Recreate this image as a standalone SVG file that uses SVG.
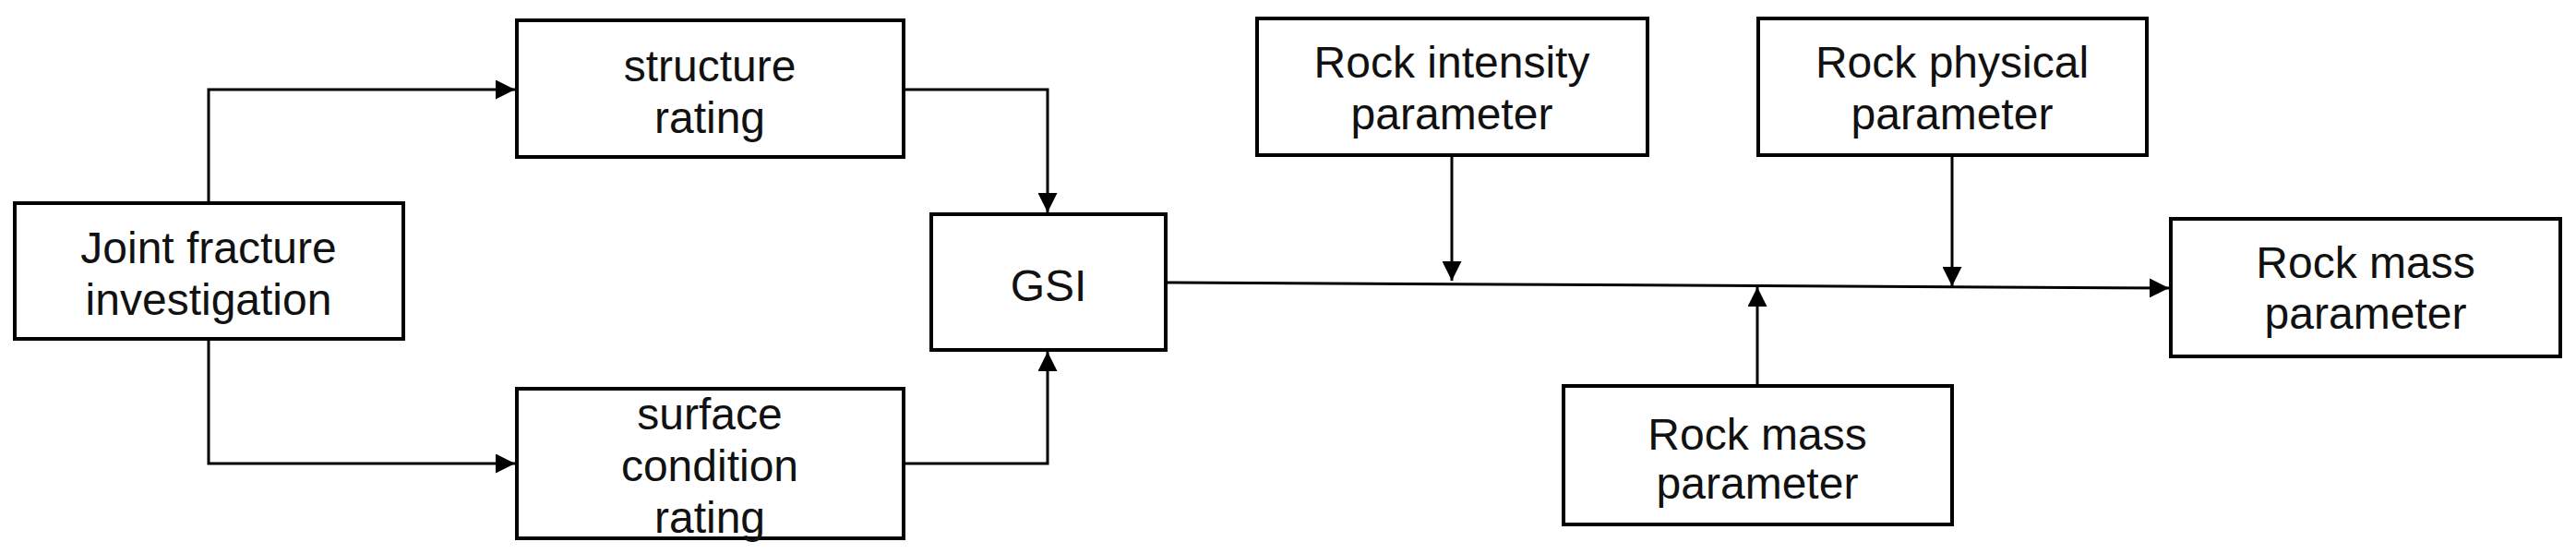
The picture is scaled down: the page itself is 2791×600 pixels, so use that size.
<svg xmlns="http://www.w3.org/2000/svg" width="2791" height="600" viewBox="0 0 2791 600">
<style>
rect{fill:#fff;stroke:#000;stroke-width:4}
text{font-family:"Liberation Sans",Arial,sans-serif;font-size:48px;fill:#111;text-anchor:middle}
.c path{fill:none;stroke:#000;stroke-width:3}
</style>
<defs>
<marker id="b" viewBox="0 0 10 10" refX="10" refY="5" markerWidth="7" markerHeight="7" orient="auto"><path d="M0,0L10,5L0,10z" fill="#000"/></marker></defs>
<rect width="2791" height="600" style="stroke:none"/>
<g class="c">
<path d="M226,220V97H558" marker-end="url(#b)"/>
<path d="M226,367V502H558" marker-end="url(#b)"/>
<path d="M979,97H1135V230" marker-end="url(#b)"/>
<path d="M979,502H1135V381" marker-end="url(#b)"/>
<path d="M1263,306L2350,312" marker-end="url(#b)"/>
<path d="M1573,168V304" marker-end="url(#b)"/>
<path d="M2115,168V310" marker-end="url(#b)"/>
<path d="M1904,418V311" marker-end="url(#b)"/>
</g>
<g id="joint"><rect x="16" y="220" width="421" height="147"/><text x="226" y="285">Joint fracture</text><text x="226" y="341">investigation</text></g>
<g id="structure"><rect x="560" y="22" width="419" height="148"/><text x="769" y="88">structure</text><text x="769" y="144">rating</text></g>
<g id="surface"><rect x="560" y="421" width="419" height="162"/><text x="769" y="465">surface</text><text x="769" y="521">condition</text><text x="769" y="577">rating</text></g>
<g id="gsi"><rect x="1009" y="232" width="254" height="147"/><text x="1136" y="326">GSI</text></g>
<g id="intensity"><rect x="1362" y="20" width="423" height="148"/><text x="1573" y="84">Rock intensity</text><text x="1573" y="140">parameter</text></g>
<g id="physical"><rect x="1905" y="20" width="421" height="148"/><text x="2115" y="84">Rock physical</text><text x="2115" y="140">parameter</text></g>
<g id="massR"><rect x="2352" y="237" width="422" height="149"/><text x="2563" y="301">Rock mass</text><text x="2563" y="356">parameter</text></g>
<g id="massB"><rect x="1694" y="418" width="421" height="150"/><text x="1904" y="487">Rock mass</text><text x="1904" y="540">parameter</text></g>
</svg>
